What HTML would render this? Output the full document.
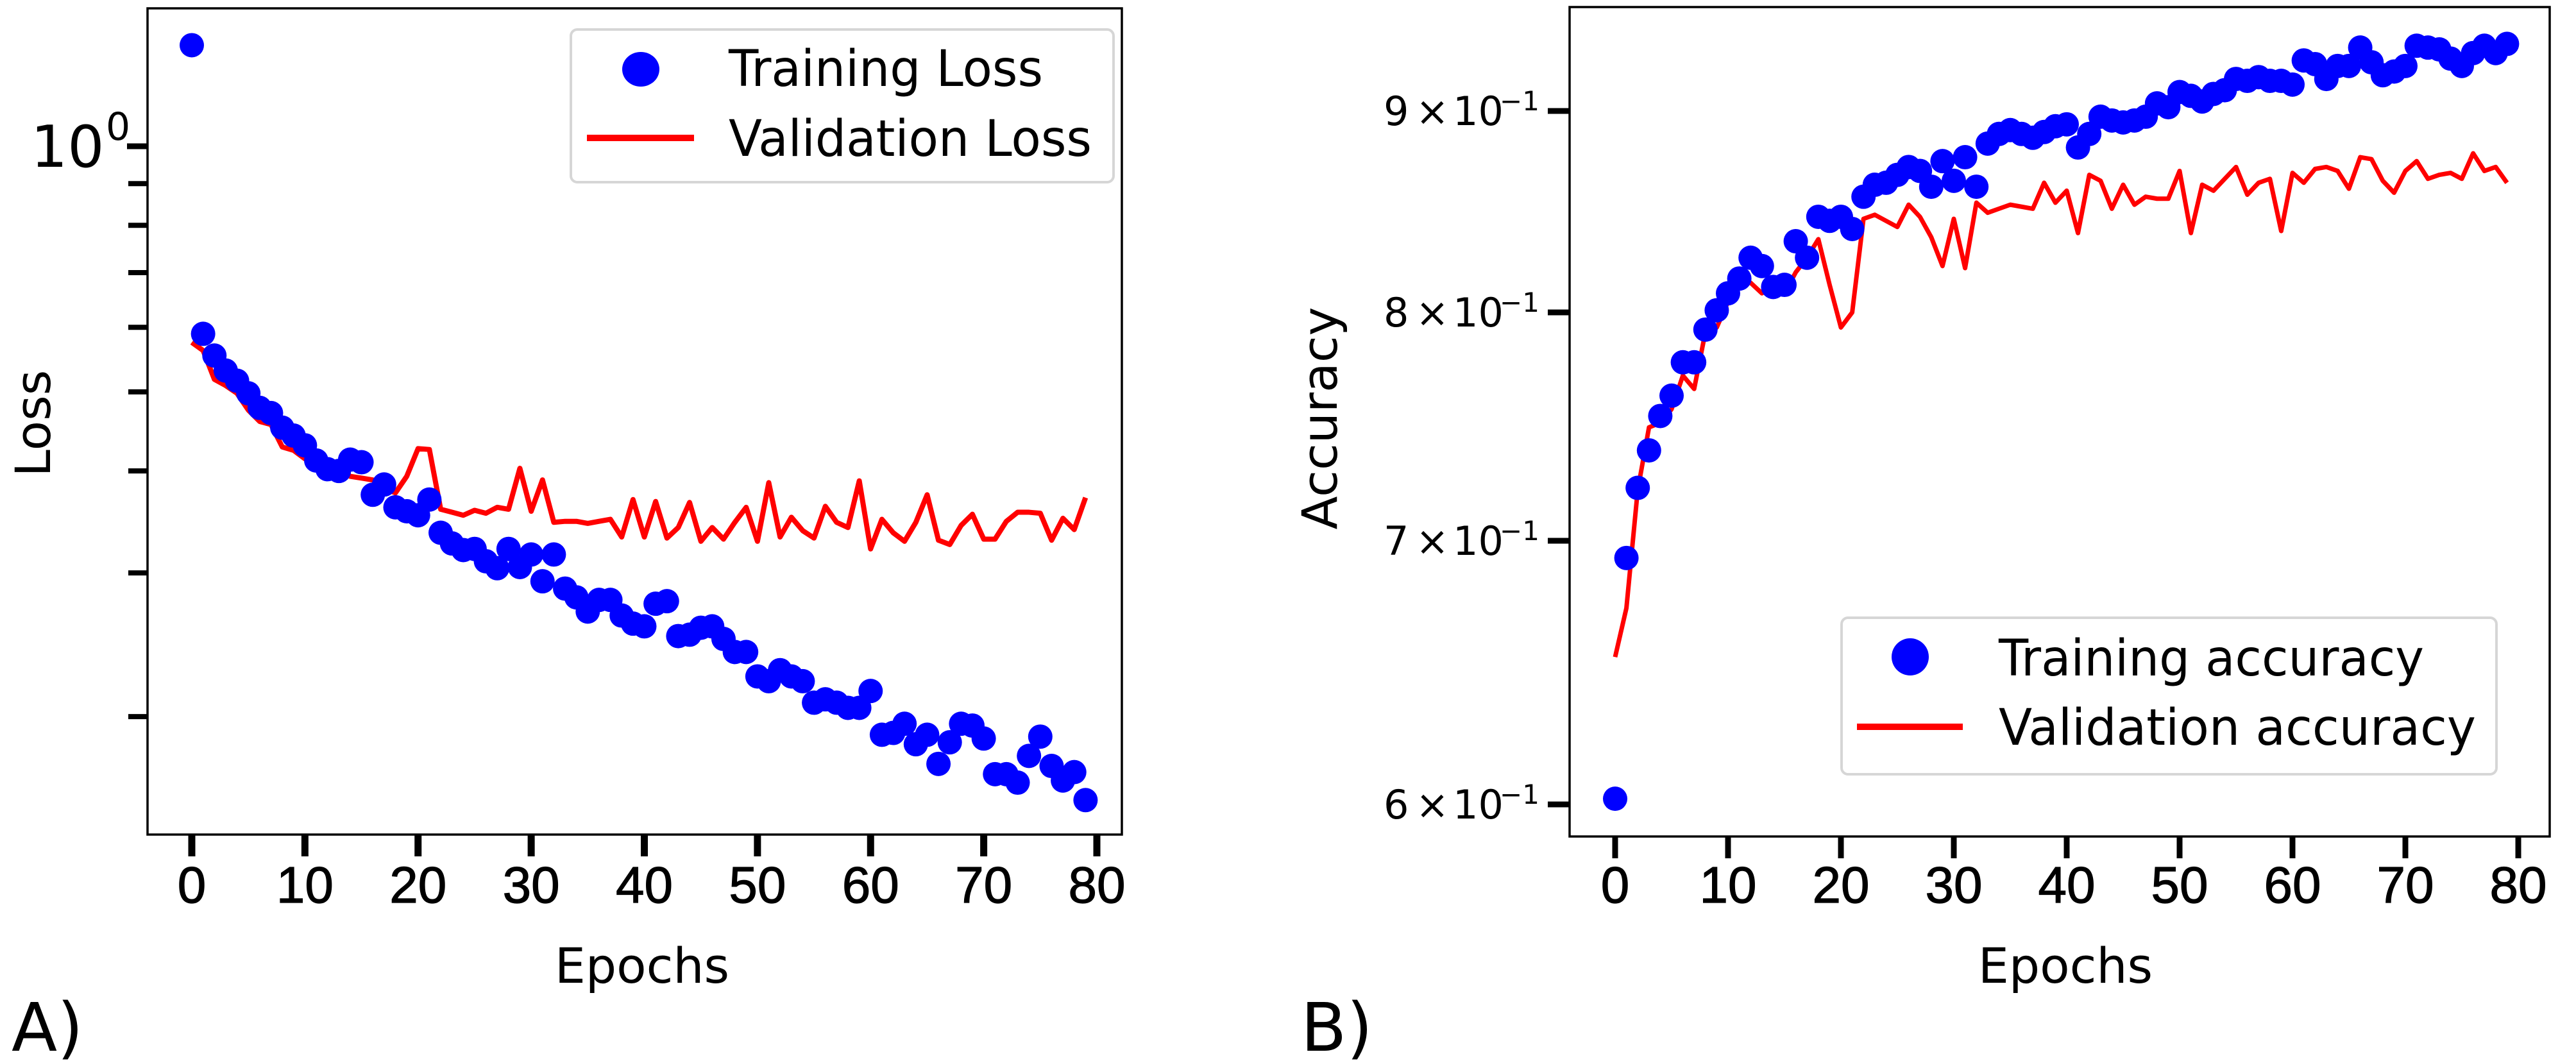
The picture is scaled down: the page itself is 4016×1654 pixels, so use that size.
<!DOCTYPE html>
<html><head><meta charset="utf-8"><style>
html,body{margin:0;padding:0;background:#fff}
svg{display:block}
text{font-family:"DejaVu Sans","Liberation Sans",sans-serif;fill:#000}
.tk{font-family:"Liberation Sans",sans-serif;font-size:80px;stroke:#000;stroke-width:1.2}
.yt{font-family:"DejaVu Sans",sans-serif;font-size:62px}
</style></head><body>
<svg id="fig" width="4016" height="1654" viewBox="0 0 4016 1654" xmlns="http://www.w3.org/2000/svg">
<g id="pA"></g>
<g id="pB"></g>
</svg>
<script>
const epochs = Array.from({length:80},(_,i)=>i);
const xTicks = [0,10,20,30,40,50,60,70,80];
const trainLoss = [1.33,0.589,0.554,0.531,0.516,0.498,0.478,0.471,0.452,0.442,0.430,0.412,0.402,0.400,0.413,0.410,0.374,0.385,0.361,0.357,0.353,0.369,0.336,0.326,0.320,0.321,0.310,0.304,0.321,0.305,0.316,0.293,0.316,0.287,0.280,0.269,0.278,0.278,0.266,0.260,0.258,0.275,0.277,0.251,0.252,0.257,0.258,0.249,0.240,0.240,0.224,0.221,0.228,0.224,0.221,0.208,0.210,0.208,0.205,0.205,0.215,0.190,0.191,0.196,0.185,0.190,0.175,0.186,0.196,0.195,0.188,0.170,0.170,0.166,0.179,0.189,0.174,0.167,0.171,0.158];
const valLoss = [0.575,0.562,0.518,0.509,0.498,0.475,0.460,0.456,0.428,0.424,0.414,0.416,0.394,0.403,0.394,0.392,0.390,0.381,0.376,0.394,0.426,0.425,0.359,0.356,0.353,0.358,0.355,0.361,0.359,0.403,0.357,0.390,0.346,0.347,0.347,0.345,0.347,0.349,0.332,0.369,0.332,0.367,0.331,0.341,0.366,0.328,0.341,0.330,0.346,0.361,0.328,0.387,0.332,0.351,0.338,0.331,0.362,0.346,0.341,0.389,0.321,0.349,0.336,0.328,0.346,0.374,0.329,0.325,0.343,0.354,0.330,0.330,0.347,0.356,0.356,0.355,0.329,0.350,0.339,0.371];
const lossMinorTicks = [0.9,0.8,0.7,0.6,0.5,0.4,0.3,0.2];
const trainAcc = [0.602,0.693,0.722,0.738,0.753,0.762,0.777,0.777,0.792,0.801,0.809,0.816,0.826,0.822,0.812,0.813,0.834,0.826,0.846,0.844,0.846,0.840,0.856,0.862,0.863,0.867,0.871,0.869,0.861,0.874,0.864,0.876,0.861,0.883,0.888,0.890,0.888,0.886,0.889,0.892,0.893,0.881,0.888,0.897,0.895,0.894,0.895,0.897,0.904,0.902,0.910,0.908,0.905,0.909,0.911,0.917,0.916,0.918,0.916,0.916,0.914,0.927,0.925,0.917,0.924,0.924,0.934,0.926,0.919,0.921,0.924,0.935,0.934,0.933,0.928,0.924,0.931,0.935,0.931,0.936];
const valAcc = [0.654,0.673,0.721,0.748,0.750,0.756,0.771,0.765,0.791,0.793,0.805,0.814,0.814,0.809,0.812,0.809,0.819,0.826,0.835,0.813,0.793,0.800,0.845,0.847,0.844,0.841,0.852,0.846,0.836,0.822,0.845,0.821,0.853,0.848,0.850,0.852,0.851,0.850,0.863,0.853,0.859,0.838,0.867,0.864,0.850,0.862,0.852,0.856,0.855,0.855,0.869,0.838,0.862,0.859,0.865,0.871,0.857,0.863,0.865,0.839,0.868,0.863,0.870,0.871,0.869,0.860,0.876,0.875,0.864,0.858,0.869,0.874,0.865,0.867,0.868,0.865,0.878,0.869,0.871,0.863];
const accTicks = [0.9,0.8,0.7,0.6];
const accTickLabels = ["9","8","7","6"];

const NS="http://www.w3.org/2000/svg";
function mk(parent,tag,attrs,txt){const e=document.createElementNS(NS,tag);for(const k in attrs)e.setAttribute(k,attrs[k]);if(txt!==undefined)e.textContent=txt;parent.appendChild(e);return e;}

// ---------- Panel A ----------
const A=document.getElementById('pA');
const ax=e=>299+e*(1710-299)/80;
const ay=v=>228-Math.log10(v)*1272;
let r=mk(A,'rect',{x:230,y:13,width:1519,height:1288,fill:'none',stroke:'#000','stroke-width':3.5});


xTicks.forEach(t=>{
  let l=mk(A,'line',{x1:ax(t),x2:ax(t),y1:1301,y2:1335,stroke:'#000','stroke-width':11});
  
  
  let tx=mk(A,'text',{x:ax(t),y:1407,'text-anchor':'middle',class:'tk'},String(t));
  
  
});
let mj=mk(A,'line',{x1:198,x2:230,y1:ay(1),y2:ay(1),stroke:'#000','stroke-width':9});


lossMinorTicks.forEach(v=>{
  let l=mk(A,'line',{x1:200,x2:230,y1:ay(v),y2:ay(v),stroke:'#000','stroke-width':8});
  
  
});
let yl=mk(A,'text',{x:48,y:ay(1)+32,'font-size':90},'10');


let ys=mk(A,'text',{x:165,y:ay(1)-10,'font-size':60},'0');


let vl=mk(A,'polyline',{points:epochs.map(e=>ax(e)+','+ay(valLoss[e])).join(' '),fill:'none',stroke:'#ff0000','stroke-width':8,'stroke-linejoin':'round'});


epochs.forEach(e=>{
  let c=mk(A,'circle',{cx:ax(e),cy:ay(trainLoss[e]),r:19,fill:'#0000ff'});
  
  
});
let t1=mk(A,'text',{x:1001,y:1532,'text-anchor':'middle','font-size':76},'Epochs');


let t2=mk(A,'text',{x:0,y:0,'text-anchor':'middle','font-size':76,transform:'translate(78,660) rotate(-90)'},'Loss');


let t3=mk(A,'text',{x:18,y:1638,'font-size':104},'A)');


let lg=mk(A,'g',{});


mk(lg,'rect',{x:890,y:46,width:846,height:238,rx:10,fill:'#fff',stroke:'#d6d6d6','stroke-width':4});
mk(lg,'ellipse',{cx:999,cy:108,rx:29,ry:27,fill:'#0000ff'});
mk(lg,'line',{x1:915,x2:1082,y1:215,y2:215,stroke:'#ff0000','stroke-width':10});
mk(lg,'text',{x:1136,y:134,'font-size':78,textLength:490,lengthAdjust:'spacingAndGlyphs'},'Training Loss');
mk(lg,'text',{x:1136,y:243,'font-size':78,textLength:566,lengthAdjust:'spacingAndGlyphs'},'Validation Loss');

// ---------- Panel B ----------
const B=document.getElementById('pB');
const bx=e=>2518+e*(3926-2518)/80;
const by=v=>173+(Math.log10(0.9)-Math.log10(v))*(1254-173)/(Math.log10(0.9)-Math.log10(0.6));
let r2=mk(B,'rect',{x:2447,y:11,width:1528,height:1293,fill:'none',stroke:'#000','stroke-width':3.5});


xTicks.forEach(t=>{
  let l=mk(B,'line',{x1:bx(t),x2:bx(t),y1:1304,y2:1338,stroke:'#000','stroke-width':9});
  
  
  let tx=mk(B,'text',{x:bx(t),y:1407,'text-anchor':'middle',class:'tk'},String(t));
  
  
});
accTicks.forEach((v,i)=>{
  let l=mk(B,'line',{x1:2413,x2:2447,y1:by(v),y2:by(v),stroke:'#000','stroke-width':9});
  
  
  let y=by(v);
  let tx=mk(B,'text',{x:2157,y:y+22,class:'yt'});
  
  
  mk(tx,'tspan',{x:2157},accTickLabels[i]);
  mk(tx,'tspan',{x:2207},'\u00d7');
  mk(tx,'tspan',{x:2265},'10');
  mk(tx,'tspan',{x:2338,y:y-1,'font-size':42},'\u22121');
});
let va=mk(B,'polyline',{points:epochs.map(e=>bx(e)+','+by(valAcc[e])).join(' '),fill:'none',stroke:'#ff0000','stroke-width':7,'stroke-linejoin':'round'});


epochs.forEach(e=>{
  let c=mk(B,'circle',{cx:bx(e),cy:by(trainAcc[e]),r:19,fill:'#0000ff'});
  
  
});
let b1=mk(B,'text',{x:3220,y:1532,'text-anchor':'middle','font-size':76},'Epochs');


let b2=mk(B,'text',{x:0,y:0,'text-anchor':'middle','font-size':76,transform:'translate(2084,652) rotate(-90)'},'Accuracy');


let b3=mk(B,'text',{x:2028,y:1638,'font-size':104},'B)');


let lg2=mk(B,'g',{});


mk(lg2,'rect',{x:2871,y:963,width:1021,height:244,rx:10,fill:'#fff',stroke:'#d6d6d6','stroke-width':4});
mk(lg2,'ellipse',{cx:2978,cy:1024,rx:29,ry:29,fill:'#0000ff'});
mk(lg2,'line',{x1:2895,x2:3060,y1:1133,y2:1133,stroke:'#ff0000','stroke-width':10});
mk(lg2,'text',{x:3116,y:1053,'font-size':78,textLength:663,lengthAdjust:'spacingAndGlyphs'},'Training accuracy');
mk(lg2,'text',{x:3116,y:1161,'font-size':78,textLength:744,lengthAdjust:'spacingAndGlyphs'},'Validation accuracy');
</script>
</body></html>
